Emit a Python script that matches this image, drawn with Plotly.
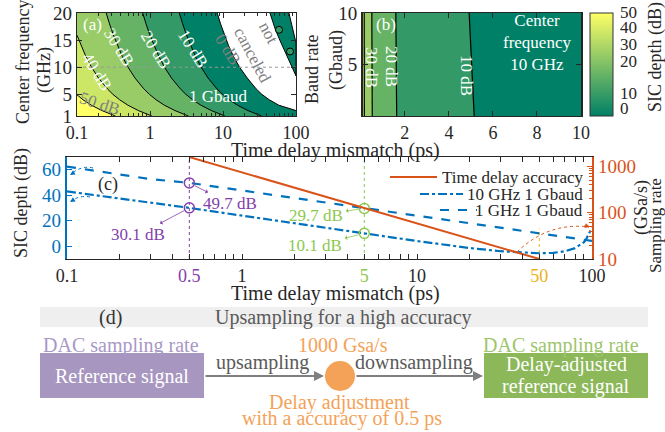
import numpy as np
import plotly.graph_objects as go

W, H = 665, 432
FONT = "Liberation Serif, Times New Roman, Tinos, DejaVu Serif, serif"


def px(x):
    return x / W


def py(y):
    return 1 - y / H


BAND_COLORS = ["rgb(0,128,102)", "rgb(51,153,102)", "rgb(102,179,102)",
               "rgb(153,204,102)", "rgb(204,230,102)", "rgb(255,255,102)"]
BLUE = "#0072BD"
ORANGE = "#D95319"
PURPLE = "#8340ab"
GREEN = "#8cc850"
YELLOW = "#EDB120"
DARK = "#262626"

# ---------------- (a) SIC depth contours: delay (ps) vs centre frequency (GHz)
A_DT_RANGE = (0.1, 100.0)
A_F_RANGE = (1.0, 20.0)
a_freq = [1, 1.5, 2, 3, 4, 5, 6, 8, 10, 12, 14, 16, 18, 20]
a_line50_f = [1, 1.5, 2, 3, 4, 4.9]
a_line50_dt = [0.335, 0.269, 0.22, 0.157, 0.121, 0.1]
a_line40_f = [1, 1.5, 2, 3, 4, 5, 6, 8, 10, 12, 14, 15.9]
a_line40_dt = [1.06, 0.85, 0.694, 0.497, 0.383, 0.31, 0.261, 0.197, 0.158, 0.132, 0.113, 0.1]
a_line30_dt = [3.35, 2.69, 2.20, 1.571, 1.211, 0.982, 0.824, 0.623, 0.500, 0.417, 0.358, 0.314, 0.279, 0.251]
a_line20_dt = [10.6, 8.50, 6.94, 4.97, 3.83, 3.10, 2.61, 1.97, 1.58, 1.32, 1.13, 0.991, 0.882, 0.794]
a_line10_dt = [33.7, 27.0, 22.0, 15.8, 12.2, 9.86, 8.27, 6.25, 5.02, 4.19, 3.60, 3.15, 2.80, 2.52]
a_line0_f = [2.0, 2.5, 3, 4, 5, 6, 8, 10, 12, 14, 16, 18, 20]
a_line0_dt = [100, 75, 58, 43, 34, 28.5, 21.5, 16.9, 13.9, 11.9, 10.4, 9.26, 8.34]
# island of partial cancellation in the upper-right corner
a_island_dt = [44, 52, 60, 70, 82, 100, 100, 88, 80]
a_island_f = [20, 17, 15, 13, 11, 8.4, 14.5, 17.5, 20]
a_loop_dt = [58.5, 82.8]
a_loop_f = [16.9, 12.9]
a_ref_freq = 10

# ---------------- (b) SIC depth at 10 GHz: delay (ps) vs baud rate (Gbaud)
B_DT_RANGE = (0.1, 10.0)
B_BAUD_RANGE = (0.0, 10.0)
b_baud = [0, 10]
b_dt40 = [0.16, 0.155]
b_dt30 = [0.52, 0.50]
b_dt20 = [1.63, 1.59]
b_dt10 = [5.15, 4.92]

# ---------------- (c) SIC depth and sampling rate vs delay mismatch
c_dt_10ghz = [0.1, 0.2, 0.3, 0.5, 0.7, 1, 2, 3, 5, 7, 10, 15, 20, 30, 40, 50,
              60, 70, 80, 85, 90, 93, 96, 98, 100]
c_sic_10ghz = [43.0, 37.6, 34.3, 30.1, 27.1, 24.1, 18.1, 14.5, 10.1, 7.2, 4.1, 0.8,
               -1.4, -3.9, -5.1, -5.5, -5.2, -3.9, -1.5, 0.6, 3.2, 6.0, 10.0, 13.0, 14.8]
c_dt_1ghz = [0.1, 0.2, 0.3, 0.5, 0.7, 1, 2, 3, 5, 7, 10, 15, 20, 30, 40, 50,
             60, 70, 80, 90, 100]
c_sic_1ghz = [62.5, 56.0, 52.7, 49.7, 46.8, 43.7, 37.7, 34.1, 29.7, 26.8, 23.8,
              20.3, 17.8, 14.3, 11.9, 10.0, 8.5, 7.2, 6.1, 5.1, 4.2]
c_acc_dt = [0.5, 50]
c_rate = [1580, 10]
c_mark_dt = [0.5, 0.5, 5, 5]
c_mark_sic = [49.7, 30.1, 29.7, 10.1]
c_mark_colors = [PURPLE, PURPLE, GREEN, GREEN]
c_sic_range = (-10, 70)
c_x_ticks = [0.1, 0.5, 1, 5, 10, 50, 100]
c_x_ticktext = ["0.1", f'<span style="color:{PURPLE}">0.5</span>', "1",
                f'<span style="color:{GREEN}">5</span>', "10",
                f'<span style="color:{YELLOW}">50</span>', "100"]

colorbar_labels = ["0", "10", "20", "30", "40", "50"]
colorbar_label_y = [108, 93, 61, 44, 28, 13]

fig = go.Figure()


def region(dt, f, lo=A_DT_RANGE[0], hi=A_DT_RANGE[1], bot=A_F_RANGE[0], top=A_F_RANGE[1]):
    xs, ys = [lo], [bot]
    if f[0] > bot:
        xs.append(hi)
        ys.append(bot)
    xs += list(dt)
    ys += list(f)
    if f[-1] >= top:
        xs.append(lo)
        ys.append(top)
    return xs, ys


a_lines = [(a_line0_dt, a_line0_f), (a_line10_dt, a_freq), (a_line20_dt, a_freq),
           (a_line30_dt, a_freq), (a_line40_dt, a_line40_f), (a_line50_dt, a_line50_f)]

for k, (dt, f) in enumerate(a_lines):
    xs, ys = region(dt, f)
    fig.add_trace(go.Scatter(x=xs, y=ys, mode="lines", fill="toself",
                             fillcolor=BAND_COLORS[k], line=dict(width=0),
                             xaxis="x", yaxis="y", hoverinfo="skip"))

fig.add_trace(go.Scatter(x=a_island_dt, y=a_island_f, mode="lines", fill="toself",
                         fillcolor=BAND_COLORS[0], line=dict(color="black", width=1),
                         xaxis="x", yaxis="y", hoverinfo="skip"))

for dt, f in a_lines:
    fig.add_trace(go.Scatter(x=dt, y=f, mode="lines", line=dict(color="black", width=1),
                             xaxis="x", yaxis="y", hoverinfo="skip"))

fig.add_trace(go.Scatter(x=list(A_DT_RANGE), y=[a_ref_freq, a_ref_freq], mode="lines",
                         line=dict(color="#9a9a9a", width=1, dash="dot"),
                         xaxis="x", yaxis="y", hoverinfo="skip"))
fig.add_trace(go.Scatter(x=a_loop_dt, y=a_loop_f, mode="markers",
                         marker=dict(size=7, color=BAND_COLORS[1],
                                     line=dict(color="black", width=1)),
                         xaxis="x", yaxis="y", hoverinfo="skip"))

# (b) bands
b_lines = [b_dt10, b_dt20, b_dt30, b_dt40]
for k, dt in enumerate(b_lines):
    xs = [B_DT_RANGE[0], dt[0], dt[1], B_DT_RANGE[0]]
    ys = [b_baud[0], b_baud[0], b_baud[1], b_baud[1]]
    fig.add_trace(go.Scatter(x=xs, y=ys, mode="lines", fill="toself",
                             fillcolor=BAND_COLORS[k + 1], line=dict(width=0),
                             xaxis="x2", yaxis="y2", hoverinfo="skip"))
for dt in b_lines:
    fig.add_trace(go.Scatter(x=dt, y=b_baud, mode="lines", line=dict(color="black", width=1.2),
                             xaxis="x2", yaxis="y2", hoverinfo="skip"))

# colour scale bar (labels are drawn as annotations)
fig.add_trace(go.Scatter(
    x=b_dt10[:1], y=b_baud[:1], mode="markers", xaxis="x2", yaxis="y2", hoverinfo="skip",
    marker=dict(size=1, opacity=0, color=[0], cmin=0, cmax=50,
                colorscale=[[0, BAND_COLORS[0]], [1, BAND_COLORS[5]]], showscale=True,
                colorbar=dict(x=px(590), xanchor="left", y=py(64.5), yanchor="middle",
                              len=103 / H, lenmode="fraction", thickness=23,
                              thicknessmode="pixels", outlinewidth=1, outlinecolor="#333",
                              showticklabels=False, ticks="", xpad=0, ypad=0))))

# (c) reference verticals
fig.add_trace(go.Scatter(x=[c_mark_dt[0]] * 2, y=list(c_sic_range), mode="lines",
                         line=dict(color=PURPLE, width=1, dash="dot"),
                         xaxis="x3", yaxis="y3", hoverinfo="skip"))
fig.add_trace(go.Scatter(x=[c_mark_dt[2]] * 2, y=list(c_sic_range), mode="lines",
                         line=dict(color=GREEN, width=1, dash="dot"),
                         xaxis="x3", yaxis="y3", hoverinfo="skip"))
fig.add_trace(go.Scatter(x=[c_acc_dt[1]] * 2, y=[c_sic_range[0], 14], mode="lines",
                         line=dict(color=YELLOW, width=1, dash="dot"),
                         xaxis="x3", yaxis="y3", hoverinfo="skip"))

fig.add_trace(go.Scatter(x=c_dt_1ghz, y=c_sic_1ghz, mode="lines",
                         line=dict(color=BLUE, width=2.2, dash="dash"),
                         xaxis="x3", yaxis="y3", hoverinfo="skip"))
fig.add_trace(go.Scatter(x=c_dt_10ghz, y=c_sic_10ghz, mode="lines",
                         line=dict(color=BLUE, width=2.2, dash="dashdot"),
                         xaxis="x3", yaxis="y3", hoverinfo="skip"))
fig.add_trace(go.Scatter(x=c_acc_dt, y=c_rate, mode="lines",
                         line=dict(color=ORANGE, width=2),
                         xaxis="x3", yaxis="y4", hoverinfo="skip"))
fig.add_trace(go.Scatter(x=c_mark_dt, y=c_mark_sic, mode="markers",
                         marker=dict(symbol="circle-open", size=10, color=c_mark_colors,
                                     line=dict(width=1.5, color=c_mark_colors)),
                         xaxis="x3", yaxis="y3", hoverinfo="skip"))

# ---------------- axes
log_minor = [m * 10.0 ** e for e in (-1, 0, 1) for m in range(2, 10)]
rate_minor = [m * 10.0 ** e for e in (1, 2) for m in range(2, 10)]
tickfont = dict(family=FONT, size=19, color=DARK)
xtickfont = dict(family=FONT, size=18, color=DARK)


def frame(**kw):
    base = dict(ticks="inside", ticklen=5, tickcolor=DARK, showline=True, linecolor=DARK,
                linewidth=1.2, mirror="allticks", showgrid=False, zeroline=False,
                tickfont=tickfont, automargin=False)
    base.update(kw)
    return base


minor_log = dict(ticks="inside", ticklen=3, tickcolor=DARK, tickvals=log_minor, showgrid=False)

fig.update_layout(
    xaxis=frame(domain=[px(77), px(296)], type="log", range=[-1, 2], anchor="y",
                tickvals=[0.1, 1, 10, 100], ticktext=["0.1", "1", "10", "100"], minor=minor_log,
                tickfont=xtickfont),
    yaxis=frame(domain=[py(116), py(13)], range=list(A_F_RANGE), anchor="x",
                tickvals=[1, 5, 10, 15, 20]),
    xaxis2=frame(domain=[px(363), px(581)], range=list(B_DT_RANGE), anchor="y2",
                 tickvals=[2, 4, 6, 8, 10], tickfont=xtickfont),
    yaxis2=frame(domain=[py(116), py(13)], range=list(B_BAUD_RANGE), anchor="x2",
                 tickvals=[5, 10], linewidth=2),
    xaxis3=frame(domain=[px(67), px(592)], type="log", range=[-1, 2], anchor="y3",
                 tickvals=c_x_ticks, ticktext=c_x_ticktext, minor=minor_log,
                 tickfont=xtickfont),
    yaxis3=dict(domain=[py(259), py(157)], range=list(c_sic_range), anchor="x3",
                tickvals=[0, 20, 40, 60], ticks="inside", ticklen=5, tickcolor=BLUE,
                showline=True, linecolor=BLUE, linewidth=2.2, showgrid=False, zeroline=False,
                tickfont=dict(family=FONT, size=19, color=BLUE), automargin=False),
    yaxis4=dict(overlaying="y3", side="right", anchor="x3", type="log", range=[1, 3.2],
                tickvals=[10, 100, 1000], ticks="inside", ticklen=5, tickcolor=ORANGE,
                showline=True, linecolor=ORANGE, linewidth=2.2, showgrid=False, zeroline=False,
                minor=dict(ticks="inside", ticklen=3, tickcolor=ORANGE, tickvals=rate_minor),
                tickfont=dict(family=FONT, size=19, color=ORANGE), automargin=False),
)

# ---------------- text
ann = []
shapes = [
    # region of (b) where cancellation stays below 10 dB
    dict(type="rect", xref="x2 domain", yref="y2 domain", x0=0, x1=1, y0=0, y1=1,
         fillcolor=BAND_COLORS[0], line=dict(width=0), layer="below"),
]


def label(x, y, text, size=17, color=DARK, angle=0, xanchor="center"):
    ann.append(dict(x=px(x), y=py(y), xref="paper", yref="paper", text=text, showarrow=False,
                    textangle=angle, font=dict(family=FONT, size=size, color=color),
                    xanchor=xanchor, yanchor="middle"))


# colour bar labels
for txt, yy in zip(colorbar_labels, colorbar_label_y):
    label(618, yy, txt, 17, DARK, xanchor="left")

# axis titles
label(23, 62, "Center frequency", 18, angle=-90)
label(45, 70, "(GHz)", 18, angle=-90)
label(312, 70, "Baud rate", 18, angle=-90)
label(337, 60, "(Gbaud)", 18, angle=-90)
label(656, 57, "SIC depth (dB)", 18, angle=-90)
label(335, 150, "Time delay mismatch (ps)", 20)
label(21, 203, "SIC depth (dB)", 18, angle=-90)
label(642, 208, "(GSa/s)", 18, angle=-90)
label(655, 226, "Sampling rate", 17, angle=-90)
label(335, 293, "Time delay mismatch (ps)", 20)

# (a) annotations
label(93, 25, "(a)", 17, "white")
label(118, 47, "30 dB", 17, "white", 58)
label(97, 71, "40 dB", 17, "white", 58)
label(156, 49, "20 dB", 17, "white", 58)
label(193, 48, "10 dB", 17, "white", 58)
label(228, 49, "0 dB", 17, "#808080", 58)
label(268, 33, "not", 17, "#808080", 62)
label(253, 55, "canceled", 17, "#808080", 62)
label(99, 104, "50 dB", 17, "#808080", 18)
label(218, 97, "1 Gbaud", 17, "white")

# (b) annotations
label(386, 24, "(b)", 17, "white")
label(371, 67, "30 dB", 17, "white", 90)
label(391, 67, "20 dB", 17, "white", 90)
label(467, 75, "10 dB", 17, "white", 90)
label(537, 43, "Center<br>frequency<br>10 GHz", 17, "white")

# (c) annotations
label(108, 185, "(c)", 18)
for txt, xv, yv, dx, dy, col in [("49.7 dB", c_mark_dt[0], c_mark_sic[0], 41, 21, PURPLE),
                                 ("30.1 dB", c_mark_dt[1], c_mark_sic[1], -51, 27, PURPLE),
                                 ("29.7 dB", c_mark_dt[2], c_mark_sic[2], -48, 7, GREEN),
                                 ("10.1 dB", c_mark_dt[3], c_mark_sic[3], -49, 12, GREEN)]:
    ann.append(dict(x=np.log10(xv), y=yv, xref="x3", yref="y3", ax=dx, ay=dy, text=txt,
                    showarrow=True, arrowside="start", arrowhead=2, arrowsize=1,
                    arrowwidth=0.8, arrowcolor=col, standoff=6, startstandoff=1,
                    font=dict(family=FONT, size=17, color=col)))

# legend of (c)
leg = [("Time delay accuracy", 177, 390, 437, ORANGE, "solid"),
       ("10 GHz 1 Gbaud", 194, 420, 463, BLUE, "dashdot"),
       ("1 GHz 1 Gbaud", 210, 440, 477, BLUE, "dash")]
for txt, yy, x0, x1, col, dash in leg:
    label(585, yy, txt, 17, DARK, xanchor="right")
    shapes.append(dict(type="line", xref="paper", yref="paper", x0=px(x0), x1=px(x1),
                       y0=py(yy), y1=py(yy), line=dict(color=col, width=2.2, dash=dash)))


def curve(p0, c, p1, col):
    path = (f"M {px(p0[0])},{py(p0[1])} Q {px(c[0])},{py(c[1])} {px(p1[0])},{py(p1[1])}")
    shapes.append(dict(type="path", xref="paper", yref="paper", path=path,
                       line=dict(color=col, width=1, dash="dot")))


def head(tip, dx, dy, col):
    ann.append(dict(x=px(tip[0]), y=py(tip[1]), xref="paper", yref="paper", text="",
                    showarrow=True, ax=dx, ay=dy, arrowhead=2, arrowsize=1, arrowwidth=1,
                    arrowcolor=col))


curve((93, 168), (82, 165), (71, 174), BLUE)
head((70, 175), 5, -3, BLUE)
curve((90, 197), (80, 195), (71, 201), BLUE)
head((70, 202), 5, -3, BLUE)
curve((517, 252), (548, 222), (589, 227), ORANGE)
head((590, 227), -7, -2, ORANGE)

# ---------------- (d) block diagram
shapes += [
    dict(type="rect", xref="paper", yref="paper", x0=px(40), x1=px(648), y0=py(327), y1=py(307),
         fillcolor="#efefef", line=dict(width=0), layer="below"),
    dict(type="rect", xref="paper", yref="paper", x0=px(40), x1=px(204), y0=py(398), y1=py(353),
         fillcolor="#a796c0", line=dict(width=0)),
    dict(type="rect", xref="paper", yref="paper", x0=px(484), x1=px(648), y0=py(398), y1=py(353),
         fillcolor="#8cb85a", line=dict(width=0)),
    dict(type="circle", xref="paper", yref="paper", x0=px(325), x1=px(355), y0=py(391), y1=py(361),
         fillcolor="#f4a258", line=dict(width=0)),
]
label(110, 317, "(d)", 20, "#333333")
label(343, 317, "Upsampling for a high accuracy", 20, "#5a5a5a")
label(121, 345, "DAC sampling rate", 20, "#a898c6")
label(122, 376, "Reference signal", 20, "white")
label(262, 362, "upsampling", 20, "#5a5a5a")
label(343, 345, "1000 Gsa/s", 20, "#f4a258")
label(414, 362, "downsampling", 20, "#5a5a5a")
label(561, 345, "DAC sampling rate", 20, "#9cc56a")
label(566, 364, "Delay-adjusted", 20, "white")
label(566, 386, "reference signal", 20, "white")
label(339, 402, "Delay adjustment", 20, "#f4a258")
label(342, 418, "with a accuracy of 0.5 ps", 20, "#f4a258")
for tip, dx in [((324, 376), -120), ((483, 376), -128)]:
    ann.append(dict(x=px(tip[0]), y=py(tip[1]), xref="paper", yref="paper", text="",
                    showarrow=True, ax=dx, ay=0, arrowhead=2, arrowsize=1, arrowwidth=2,
                    arrowcolor="#7f7f7f"))

fig.update_layout(
    template="none", width=W, height=H, showlegend=False,
    margin=dict(l=0, r=0, t=0, b=0, pad=0, autoexpand=False),
    paper_bgcolor="white", plot_bgcolor="white",
    font=dict(family=FONT, size=17, color=DARK),
    annotations=ann, shapes=shapes,
)

fig.write_html("out.html")
